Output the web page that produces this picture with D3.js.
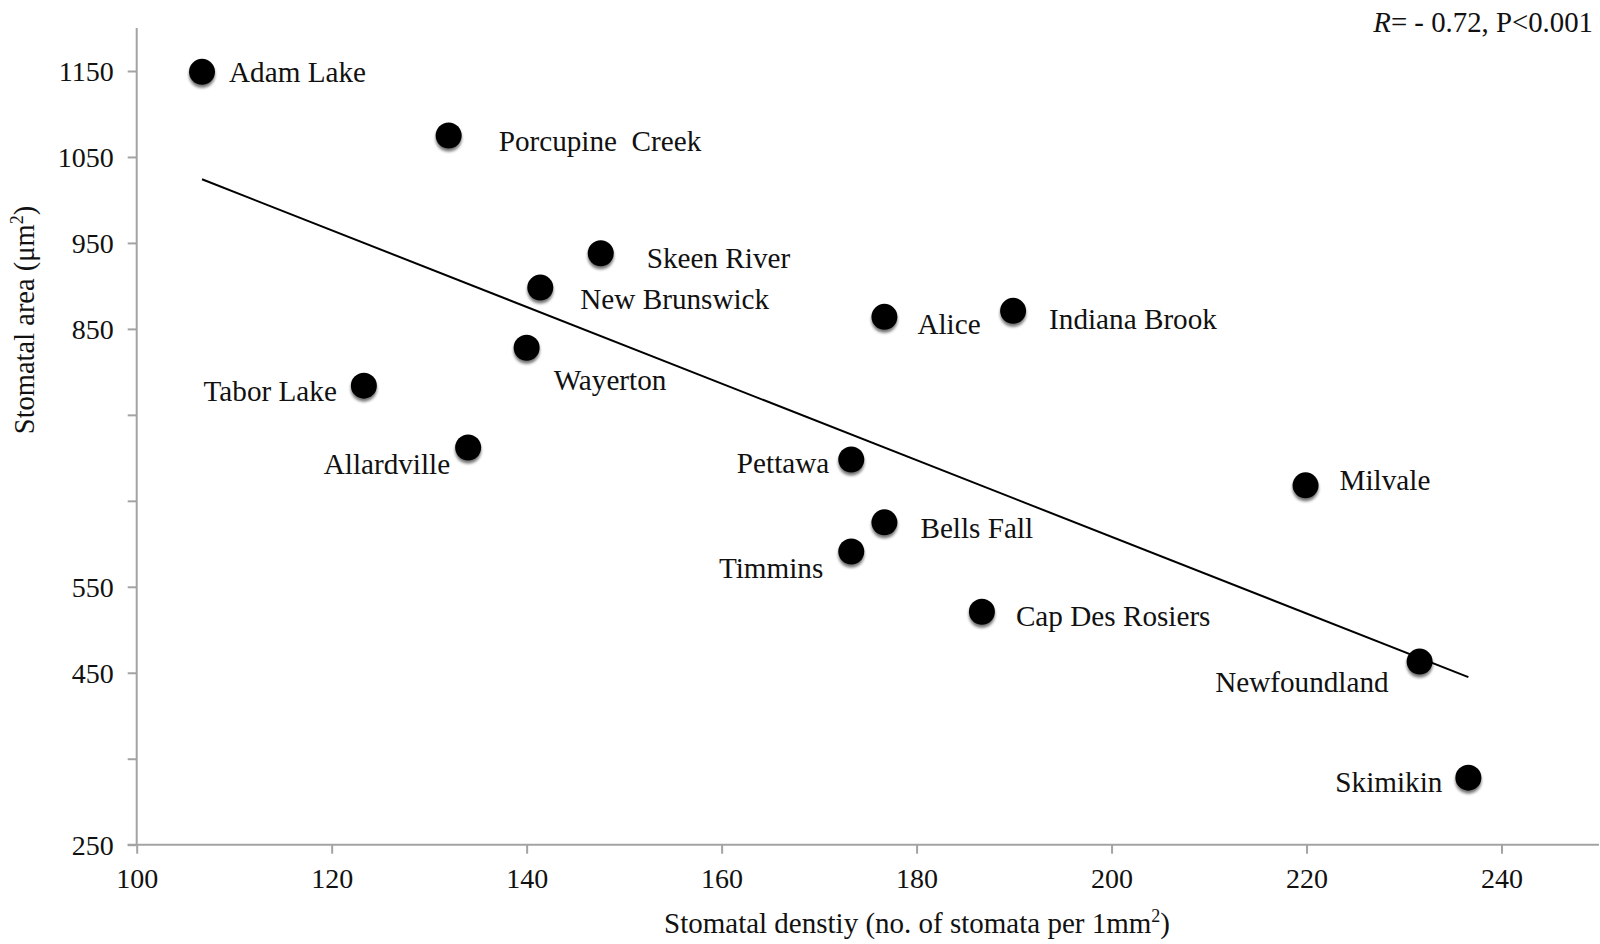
<!DOCTYPE html>
<html>
<head>
<meta charset="utf-8">
<script src="https://cdn.jsdelivr.net/npm/d3@7"></script>
<style>
  html, body { margin: 0; padding: 0; background: #fff; }
  svg { display: block; font-family: "Liberation Serif", "Times New Roman", serif; }
</style>
</head>
<body>
<svg id="chart" width="1600" height="944"></svg>
<script>
// Sampling sites
const sites = [
  "Adam Lake", "Porcupine  Creek", "Skeen River", "New Brunswick", "Alice",
  "Indiana Brook", "Wayerton", "Tabor Lake", "Allardville", "Pettawa",
  "Milvale", "Bells Fall", "Timmins", "Cap Des Rosiers", "Newfoundland", "Skimikin"
];
// Stomatal density (no. of stomata per 1 mm²)
const density = [
  106.7, 132.0, 147.6, 141.4, 176.7,
  189.9, 140.0, 123.3, 134.0, 173.3,
  219.9, 176.7, 173.3, 186.7, 231.6, 236.6
];
// Stomatal area (µm²)
const area = [
  1149, 1075, 938, 898, 864,
  871, 828, 784, 712, 698,
  668, 625, 591, 521, 463, 328
];
// Fitted regression line, endpoints
const trendX = [106.7, 236.6];
const trendY = [1024, 445];

// Axis ticks
const xTicks = [100, 120, 140, 160, 180, 200, 220, 240];
const yTicks = [250, 350, 450, 550, 650, 750, 850, 950, 1050, 1150];
const yTickLabels = ["250", "", "450", "550", "", "", "850", "950", "1050", "1150"];

// Label placement around each dot: [dx, dy, anchor]
const labelPlacement = {
  "Adam Lake": [27, 10, "start"],
  "Porcupine  Creek": [50, 16, "start"],
  "Skeen River": [46, 15, "start"],
  "New Brunswick": [40, 21, "start"],
  "Alice": [33, 17, "start"],
  "Indiana Brook": [36, 18, "start"],
  "Wayerton": [27, 42, "start"],
  "Tabor Lake": [-27, 15, "end"],
  "Allardville": [-18, 26, "end"],
  "Pettawa": [-22, 13, "end"],
  "Milvale": [34, 5, "start"],
  "Bells Fall": [36, 16, "start"],
  "Timmins": [-28, 26, "end"],
  "Cap Des Rosiers": [34, 14, "start"],
  "Newfoundland": [-31, 30, "end"],
  "Skimikin": [-26, 14, "end"]
};

const svg = d3.select("#chart");
const plotLeft = 136.7, plotRight = 1599, plotTop = 28, plotBottom = 844.7;

const x = d3.scaleLinear().domain([100, 250]).range([plotLeft, plotRight]);
const y = d3.scaleLinear().domain([250, 1200]).range([plotBottom, plotTop]);

// Soft shadow under the dots
const defs = svg.append("defs");
const f = defs.append("filter").attr("id", "dotShadow")
  .attr("x", "-50%").attr("y", "-50%").attr("width", "200%").attr("height", "200%");
f.append("feGaussianBlur").attr("in", "SourceAlpha").attr("stdDeviation", 1.8).attr("result", "b");
f.append("feOffset").attr("in", "b").attr("dy", 2.5).attr("result", "o");
f.append("feComponentTransfer").attr("in", "o").attr("result", "s")
  .append("feFuncA").attr("type", "linear").attr("slope", 0.55);
f.append("feGaussianBlur").attr("in", "SourceGraphic").attr("stdDeviation", 0.6).attr("result", "g");
const m = f.append("feMerge");
m.append("feMergeNode").attr("in", "s");
m.append("feMergeNode").attr("in", "g");

const axisColor = "#a3a3a3";

// Y axis
const yAxis = svg.append("g")
  .attr("transform", `translate(${plotLeft},0)`)
  .call(d3.axisLeft(y).tickValues(yTicks).tickSize(9).tickPadding(14)
    .tickFormat((d, i) => yTickLabels[i]));
yAxis.select(".domain").remove();
yAxis.append("line").attr("x1", 0).attr("x2", 0).attr("y1", plotTop).attr("y2", plotBottom)
  .attr("stroke", axisColor).attr("stroke-width", 2);
yAxis.selectAll(".tick line").attr("stroke", axisColor).attr("stroke-width", 2);
yAxis.selectAll(".tick text")
  .attr("font-family", "Liberation Serif").attr("font-size", 28).attr("fill", "#111")
  .attr("dy", "0.34em");

// X axis
const xAxis = svg.append("g")
  .attr("transform", `translate(0,${plotBottom})`)
  .call(d3.axisBottom(x).tickValues(xTicks).tickSize(9).tickFormat(d3.format("d")));
xAxis.select(".domain").remove();
xAxis.append("line").attr("x1", plotLeft - 9).attr("x2", plotRight).attr("y1", 0).attr("y2", 0)
  .attr("stroke", axisColor).attr("stroke-width", 2);
xAxis.selectAll(".tick line").attr("stroke", axisColor).attr("stroke-width", 2);
xAxis.selectAll(".tick text")
  .attr("font-family", "Liberation Serif").attr("font-size", 28).attr("fill", "#111")
  .attr("y", 43.5).attr("dy", 0);

// Regression line
svg.append("line")
  .attr("x1", x(trendX[0])).attr("y1", y(trendY[0]))
  .attr("x2", x(trendX[1])).attr("y2", y(trendY[1]))
  .attr("stroke", "#000").attr("stroke-width", 2);

// Points
const pts = sites.map((s, i) => ({ name: s, dx: density[i], ar: area[i] }));

svg.append("g").selectAll("circle").data(pts).join("circle")
  .attr("cx", d => x(d.dx)).attr("cy", d => y(d.ar)).attr("r", 13)
  .attr("fill", "#000").attr("filter", "url(#dotShadow)");

// Site labels
svg.append("g").selectAll("text").data(pts).join("text")
  .attr("x", d => x(d.dx) + labelPlacement[d.name][0])
  .attr("y", d => y(d.ar) + labelPlacement[d.name][1])
  .attr("text-anchor", d => labelPlacement[d.name][2])
  .attr("font-size", 29.2).attr("fill", "#111")
  .style("white-space", "pre")
  .text(d => d.name);

// Axis titles
const xt = svg.append("text")
  .attr("x", 917).attr("y", 933).attr("text-anchor", "middle")
  .attr("font-size", 29).attr("fill", "#111");
xt.append("tspan").text("Stomatal denstiy (no. of stomata per 1mm");
xt.append("tspan").attr("font-size", 18).attr("dy", -11).text("2");
xt.append("tspan").attr("dy", 11).text(")");

const yt = svg.append("text")
  .attr("transform", "translate(34,320) rotate(-90)")
  .attr("text-anchor", "middle").attr("font-size", 28.5).attr("fill", "#111");
yt.append("tspan").text("Stomatal area (μm");
yt.append("tspan").attr("font-size", 18).attr("dy", -11).text("2");
yt.append("tspan").attr("dy", 11).text(")");

// Correlation annotation
const ann = svg.append("text")
  .attr("x", 1593).attr("y", 31.5).attr("text-anchor", "end")
  .attr("font-size", 28.8).attr("fill", "#111");
ann.append("tspan").attr("font-style", "italic").text("R");
ann.append("tspan").text("= - 0.72, P<0.001");
</script>
</body>
</html>
